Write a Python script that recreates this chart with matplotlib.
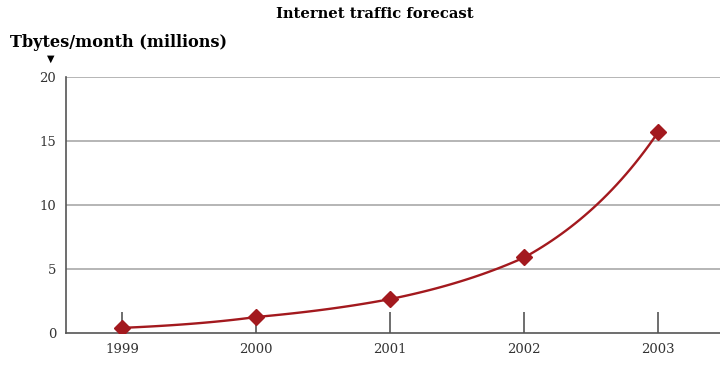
import numpy as np
import matplotlib.pyplot as plt

# chart data
years = [1999, 2000, 2001, 2002, 2003]
traffic = [0.4, 1.25, 2.65, 5.9, 15.7]
y_ticks = [0, 5, 10, 15, 20]

title = "Internet traffic forecast"
y_label = "Tbytes/month (millions)"

red = "#a3191e"
grey = "#555555"
serif = ["DejaVu Serif"]

fig = plt.figure(figsize=(7.2, 3.79), dpi=100)
ax = fig.add_axes([0.0917, 0.1214, 0.9083, 0.676])

# smooth curve: exponential growth between neighbouring points
xs, ys = [], []
for i in range(len(years) - 1):
    t = np.linspace(0, 1, 30)
    xs.extend(years[i] + t * (years[i + 1] - years[i]))
    ys.extend(traffic[i] * (traffic[i + 1] / traffic[i]) ** t)
ax.plot(xs, ys, color=red, lw=1.7, zorder=3)
ax.plot(years, traffic, ls="none", marker="D", ms=8.5, color=red, zorder=4)

ax.set_xlim(1998.58, 2003.46)
ax.set_ylim(0, 20)

# horizontal grid
for v in y_ticks[1:]:
    ax.axhline(v, color="#b5b5b5", lw=1.4, zorder=1)

for s in ["top", "right"]:
    ax.spines[s].set_visible(False)
ax.spines["left"].set_color(grey)
ax.spines["bottom"].set_color(grey)
ax.spines["left"].set_linewidth(1.2)
ax.spines["bottom"].set_linewidth(1.2)

ax.set_xticks(years)
ax.set_xticklabels([str(y) for y in years], family=serif, fontsize=9.5, color="#333333")
ax.tick_params(axis="x", direction="in", length=15, width=1.2, color=grey, pad=7)
ax.set_yticks(y_ticks)
ax.set_yticklabels([str(v) for v in y_ticks], family=serif, fontsize=9.5, color="#333333")
ax.tick_params(axis="y", length=0, pad=7)

fig.text(0.521, 0.962, title, ha="center", va="center", family=serif,
         fontsize=10.6, fontweight="bold")
fig.text(0.014, 0.889, y_label, ha="left", va="center", family=serif,
         fontsize=11.6, fontweight="bold")
fig.text(0.071, 0.846, "\u25bc", ha="center", va="center", family="DejaVu Sans",
         fontsize=7)

fig.savefig("out.png", dpi=100)
